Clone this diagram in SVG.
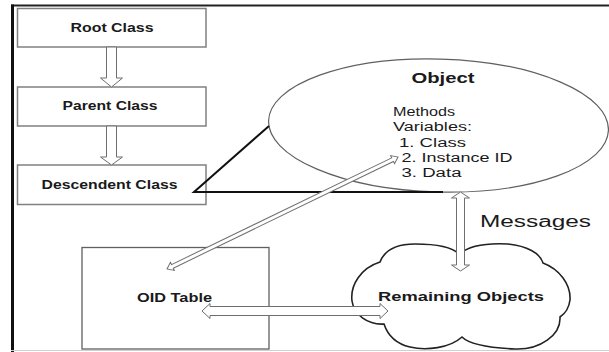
<svg xmlns="http://www.w3.org/2000/svg" width="609" height="352" viewBox="0 0 609 352">
<style>
text{font-family:"Liberation Sans",Arial,Helvetica,sans-serif;fill:#1a1a1a}
.b{font-weight:bold}
.box{fill:#fff;stroke:#808080;stroke-width:1.5}
.arr{fill:#fff;stroke:#6e6e6e;stroke-width:1}
</style>
<rect width="609" height="352" fill="#fff"/>
<g id="frame">
<line x1="11" y1="5.5" x2="609" y2="5.5" stroke="#222" stroke-width="2"/>
<line x1="12.5" y1="4.5" x2="12.5" y2="352" stroke="#111" stroke-width="3"/>
<line x1="11" y1="350.5" x2="609" y2="350.5" stroke="#d0d0d0" stroke-width="1"/>
</g>
<g id="root-class">
<rect class="box" x="17.5" y="8.5" width="188.5" height="38.5"/>
<text class="b" x="70.5" y="32" font-size="12.5" textLength="83" lengthAdjust="spacingAndGlyphs">Root Class</text>
</g>
<g id="parent-class">
<rect class="box" x="17.5" y="87" width="188.5" height="39"/>
<text class="b" x="62.5" y="110" font-size="12.5" textLength="95" lengthAdjust="spacingAndGlyphs">Parent Class</text>
</g>
<g id="descendent-class">
<rect class="box" x="17.5" y="165" width="188.5" height="39.5"/>
<text class="b" x="41.5" y="189" font-size="12.5" textLength="136" lengthAdjust="spacingAndGlyphs">Descendent Class</text>
</g>
<g id="object">
<ellipse cx="438.5" cy="125.5" rx="170" ry="66.5" fill="#fff" stroke="#606060" stroke-width="1.2" transform="rotate(1.6 438.5 125.5)"/>
<text class="b" x="411.5" y="83" font-size="15" textLength="63" lengthAdjust="spacingAndGlyphs">Object</text>
<text x="393" y="115.7" font-size="12.5" textLength="62" lengthAdjust="spacingAndGlyphs">Methods</text>
<text x="393" y="130.7" font-size="12.5" textLength="79" lengthAdjust="spacingAndGlyphs">Variables:</text>
<text x="399" y="146.7" font-size="12.5" textLength="67" lengthAdjust="spacingAndGlyphs">1. Class</text>
<text x="401.5" y="161.7" font-size="12.5" textLength="111" lengthAdjust="spacingAndGlyphs">2. Instance ID</text>
<text x="401.5" y="176.7" font-size="12.5" textLength="60" lengthAdjust="spacingAndGlyphs">3. Data</text>
</g>
<g id="oid-table">
<rect x="82" y="247.5" width="187" height="101.5" fill="#fff" stroke="#606060" stroke-width="1.3"/>
<text class="b" x="137" y="301.7" font-size="12" textLength="75" lengthAdjust="spacingAndGlyphs">OID Table</text>
</g>
<g id="remaining-objects">
<path d="M380,262 C385,249 399,244 415,244 C434,244 452,247 459,254 C470,245 490,243 508,244 C527,246 540,253 543,263 C559,269 571,284 570,300 C569,308 566,313 560,317 C561,335 540,350 515,349 C492,348 470,345 462,337 C450,348 426,351 410,347 C397,344 388,336 384,324 C368,325 354,315 352,301 C350,285 361,268 380,262 Z" fill="#fff" stroke="#222" stroke-width="1.6"/>
<text class="b" x="378" y="301" font-size="13" textLength="166" lengthAdjust="spacingAndGlyphs">Remaining Objects</text>
</g>
<g id="connectors">
<polyline points="269,126 194,192 443,192" fill="none" stroke="#111" stroke-width="2"/>
<polygon class="arr" points="106.5,47 116.5,47 116.5,78 122.5,78 111.5,87 100.5,78 106.5,78"/>
<polygon class="arr" points="106.5,126 116.5,126 116.5,157 122.5,157 111.5,165 100.5,157 106.5,157"/>
<polygon class="arr" points="460.5,192 469.5,198 464.5,198 464.5,265 469.5,265 460.5,271 451.5,265 456.5,265 456.5,198 451.5,198"/>
<g transform="translate(167 269) rotate(-25.86)">
<polygon class="arr" points="0,0 6,-4.5 6,-2 250.7,-2 250.7,-4.5 256.7,0 250.7,4.5 250.7,2 6,2 6,4.5"/>
</g>
<polygon class="arr" points="202,311 210,303.5 210,306.5 380,306.5 380,303.5 388,311 380,318.5 380,315.5 210,315.5 210,318.5"/>
<text x="480" y="226.7" font-size="16" textLength="111" lengthAdjust="spacingAndGlyphs">Messages</text>
</g>
</svg>
